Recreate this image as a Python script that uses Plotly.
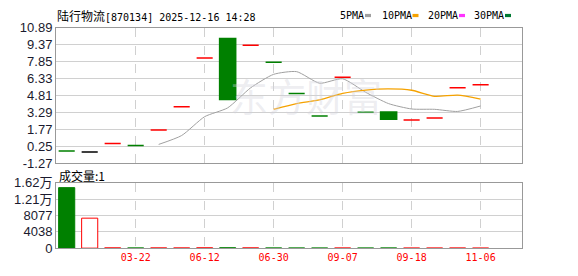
import plotly.graph_objects as go

# ---------------- data ----------------
x_idx = list(range(19))
opens  = [-0.20, -0.28, 0.48, 0.31, 1.70, 3.79, 8.15, 9.91, 9.31, 7.78, 4.98, 2.94, 6.42, 3.28, 3.31, 2.60, 2.77, 5.49, 5.75]
closes = [-0.20, -0.28, 0.48, 0.31, 1.70, 3.79, 8.15, 4.44, 9.31, 7.78, 4.98, 2.94, 6.42, 3.28, 2.66, 2.60, 2.77, 5.49, 5.75]
highs  = [-0.20, -0.28, 0.48, 0.31, 1.70, 3.79, 8.15, 9.91, 9.31, 7.78, 4.98, 2.94, 6.42, 3.28, 3.31, 2.60, 2.77, 5.49, 5.75]
lows   = [-0.20, -0.28, 0.48, 0.31, 1.70, 3.79, 8.15, 4.44, 9.31, 7.78, 4.98, 2.94, 6.42, 3.28, 2.66, 2.60, 2.77, 5.49, 5.75]
# colour class of each candle: r = up (red), g = down (green), k = unchanged (black)
candle_kind = ["g", "k", "r", "g", "r", "r", "r", "g", "r", "g", "g", "g", "r", "g", "g", "r", "r", "r", "r"]
volume_kind = ["g", "r", "r", "g", "r", "r", "r", "g", "r", "g", "g", "g", "r", "g", "g", "r", "r", "r", "r"]
volumes = [14980, 7420, 60, 40, 50, 40, 80, 90, 60, 40, 30, 20, 30, 20, 40, 10, 10, 20, 1]

ma5 = [None, None, None, None, 0.40, 1.20, 2.89, 3.68, 5.48, 6.69, 6.93, 5.89, 6.29, 5.08, 4.06, 3.58, 3.55, 3.36, 3.85]
ma10 = [None] * 9 + [3.55, 4.07, 4.39, 4.98, 5.28, 5.38, 5.26, 4.72, 4.82, 4.47]

price_ticks = [-1.27, 0.25, 1.77, 3.29, 4.81, 6.33, 7.85, 9.37, 10.89]
vol_ticks = [0, 4038, 8077, 12115, 16154]
vol_tick_text = ["0", "4038", "8077", "1.21万", "1.62万"]
date_tick_pos = [3, 6, 9, 12, 15, 18]
date_tick_text = ["03-22", "06-12", "06-30", "09-07", "09-18", "11-06"]

title_name = "陆行物流"
title_code = "[870134] 2025-12-16 14:28"
legend_names = ["5PMA", "10PMA", "20PMA", "30PMA"]
legend_colors = ["#a0a0a0", "#f5a200", "#ff33ff", "#007a33"]

RED = "#ff0000"
GREEN = "#008000"
BLACK = "#000000"

W, H = 578, 276
L, R = 56, 522
MAIN_T, MAIN_B = 21.7, 165
VOL_T, VOL_B = 186, 255


def py(p):
    return (H - p) / H


def px(p):
    return p / W


fig = go.Figure()

# watermark
fig.add_annotation(x=px(306), y=py(92), xref="paper", yref="paper", text="东方财富",
                   showarrow=False, font=dict(family="Noto Sans CJK SC", size=38, color="rgba(210,210,220,0.4)"))

kind_style = {
    "r": dict(color=RED, fill="#ffffff"),
    "g": dict(color=GREEN, fill=GREEN),
    "k": dict(color=BLACK, fill=BLACK),
}
for kind in ["g", "k", "r"]:
    sel = [i for i in x_idx if candle_kind[i] == kind]
    st = kind_style[kind]
    fig.add_trace(go.Candlestick(
        x=[x_idx[i] for i in sel],
        open=[opens[i] for i in sel], high=[highs[i] for i in sel],
        low=[lows[i] for i in sel], close=[closes[i] for i in sel],
        increasing=dict(line=dict(color=st["color"], width=1.5), fillcolor=st["fill"]),
        decreasing=dict(line=dict(color=st["color"], width=1.5), fillcolor=st["fill"]),
        whiskerwidth=0, showlegend=False, hoverinfo="skip",
        xaxis="x", yaxis="y",
    ))

fig.add_trace(go.Scatter(x=x_idx, y=ma5, mode="lines", line=dict(color="#a0a0a0", width=1, shape="spline", smoothing=0.6),
                         showlegend=False, hoverinfo="skip", xaxis="x", yaxis="y"))
fig.add_trace(go.Scatter(x=x_idx, y=ma10, mode="lines", line=dict(color="#f5a200", width=1.3, shape="spline", smoothing=0.6),
                         showlegend=False, hoverinfo="skip", xaxis="x", yaxis="y"))

fig.add_trace(go.Bar(
    x=x_idx, y=volumes,
    marker=dict(color=["#ffffff" if k == "r" else GREEN for k in volume_kind],
                line=dict(color=[RED if k == "r" else GREEN for k in volume_kind], width=1)),
    showlegend=False, hoverinfo="skip", xaxis="x2", yaxis="y2",
))

xr = [-0.465, 19.8]
common_x = dict(range=xr, tickvals=date_tick_pos, showgrid=True, gridcolor="#d0d0d0", griddash="dash",
                gridwidth=1, showline=True, mirror=True, linecolor="#999999", linewidth=1,
                zeroline=False, ticks="", fixedrange=True)
fig.update_layout(
    width=W, height=H, margin=dict(l=0, r=0, t=0, b=0),
    paper_bgcolor="#ffffff", plot_bgcolor="#ffffff",
    boxgap=0.3, boxgroupgap=0.0, bargap=0.3,
    xaxis=dict(domain=[px(L), px(R)], anchor="y", showticklabels=False, rangeslider=dict(visible=False), **common_x),
    xaxis2=dict(domain=[px(L), px(R)], anchor="y2", ticktext=date_tick_text, showticklabels=True,
                tickfont=dict(family="DejaVu Sans Mono", size=10, color=RED), **common_x),
    yaxis=dict(domain=[py(MAIN_B), py(MAIN_T)], anchor="x", range=[price_ticks[0], price_ticks[-1]],
               tickvals=price_ticks, ticktext=[f"{v:.2f}" for v in price_ticks],
               tickfont=dict(family="Liberation Sans", size=13, color="#1a1a2e"),
               showgrid=True, gridcolor="#d0d0d0", gridwidth=1, showline=True, mirror=True,
               linecolor="#999999", linewidth=1, zeroline=False, ticks="", fixedrange=True),
    yaxis2=dict(domain=[py(VOL_B), py(VOL_T)], anchor="x2", range=[vol_ticks[0], vol_ticks[-1]],
                tickvals=vol_ticks, ticktext=vol_tick_text,
                tickfont=dict(family="Liberation Sans, Noto Sans CJK SC", size=13, color="#1a1a2e"),
                showgrid=True, gridcolor="#d0d0d0", gridwidth=1, showline=True, mirror=True,
                linecolor="#999999", linewidth=1, zeroline=False, ticks="", fixedrange=True),
)

# title
fig.add_annotation(x=px(55), y=py(9), xref="paper", yref="paper", xanchor="left", yanchor="middle",
                   showarrow=False, align="left",
                   text=f"{title_name}<span style='font-family:DejaVu Sans Mono;font-size:10px'>{title_code}</span>",
                   font=dict(family="Noto Sans CJK SC", size=12, color="#000000"))
# volume label
fig.add_annotation(x=px(57), y=py(178), xref="paper", yref="paper", xanchor="left", yanchor="middle",
                   showarrow=False, text="成交量:1", font=dict(family="Noto Sans CJK SC", size=12, color="#000000"))

# legend
leg_text_x = [338, 380, 425.5, 472]
leg_sw_x = [365, 412.5, 459, 505]
for name, col, tx, sx in zip(legend_names, legend_colors, leg_text_x, leg_sw_x):
    fig.add_annotation(x=px(tx), y=py(9), xref="paper", yref="paper", xanchor="left", yanchor="middle",
                       showarrow=False, text=name, font=dict(family="DejaVu Sans Mono", size=10, color="#000000"))
    fig.add_shape(type="rect", xref="paper", yref="paper", x0=px(sx), x1=px(sx + 6), y0=py(10.7), y1=py(7.3),
                  fillcolor=col, line=dict(width=0))

fig.write_html("out.html")
